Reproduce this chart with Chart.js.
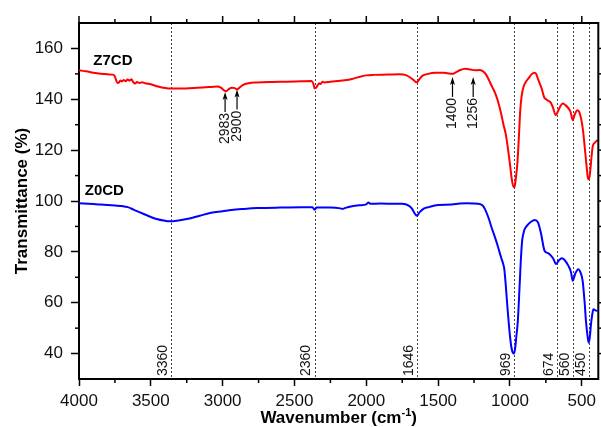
<!DOCTYPE html>
<html>
<head>
<meta charset="utf-8">
<script src="https://cdn.jsdelivr.net/npm/chart.js@4"></script>
<style>
html,body{margin:0;padding:0;background:#fff;}
#c{display:block;}
</style>
</head>
<body>
<canvas id="c" width="601" height="427"></canvas>
<script>
// ---------- data ----------
const xTicks = [4000, 3500, 3000, 2500, 2000, 1500, 1000, 500];
const xMinorTicks = [3750, 3250, 2750, 2250, 1750, 1250, 750];
const yTicks = [40, 60, 80, 100, 120, 140, 160];
const yMinorTicks = [50, 70, 90, 110, 130, 150];
const seriesNames = ['Z7CD', 'Z0CD'];
const peakWn = [3360, 2360, 1646, 969, 674, 560, 450];
const arrowWn = [2983, 2900, 1400, 1256];
const arrowTipT = [142.9, 143.8, 148.8, 148.8];

const z7Wn = [4000,3950,3900,3850,3800,3765,3752,3742,3732,3722,3712,3700,3688,3675,3662,3648,3635,3622,3610,3595,3580,3560,3540,3500,3450,3400,3360,3300,3200,3100,3040,3010,2990,2975,2955,2935,2915,2900,2885,2860,2820,2760,2650,2550,2450,2380,2368,2360,2350,2338,2328,2318,2305,2290,2250,2200,2150,2100,2050,2000,1950,1850,1770,1720,1685,1660,1648,1632,1610,1570,1520,1460,1420,1400,1380,1350,1310,1275,1245,1215,1190,1170,1150,1125,1100,1075,1060,1045,1030,1015,1000,987,975,968,958,948,938,928,918,905,890,870,850,830,818,805,790,778,762,748,730,715,700,682,668,650,632,612,592,578,563,548,530,518,505,492,480,468,456,449,440,432,424,415,405,390];
const z7T  = [151.4,151.0,150.4,150.0,149.8,149.7,149.2,147.6,146.4,146.6,147.4,147.0,147.6,147.1,147.8,147.3,147.9,146.7,146.2,146.8,146.4,146.7,146.3,145.9,145.0,144.4,144.2,144.2,144.4,144.8,145.0,144.5,143.5,143.2,144.1,144.5,144.4,143.9,144.5,145.6,146.3,146.6,146.8,146.9,147.1,147.2,146.0,144.3,144.5,145.6,146.3,146.0,146.9,146.6,146.9,147.2,147.5,148.0,148.8,149.4,149.6,149.7,149.8,149.4,148.2,147.0,146.7,147.8,149.2,150.0,150.4,150.4,150.1,150.0,150.5,151.4,152.0,151.7,151.4,151.5,151.1,150.0,148.0,145.0,142.0,137.5,134.0,130.0,126.5,121.0,114.5,108.5,105.5,105.6,109.5,115.0,125.0,136.0,141.5,145.0,146.8,148.3,149.8,150.4,150.0,148.0,145.8,144.0,140.8,140.0,139.3,138.6,136.6,133.8,135.0,137.2,138.3,137.6,136.4,135.0,131.8,134.2,135.7,135.0,132.5,128.0,121.5,114.5,108.8,108.6,112.5,117.5,121.5,122.6,123.2,124.0];

const z0Wn = [4000,3900,3850,3750,3700,3660,3620,3576,3520,3460,3400,3370,3320,3250,3160,3080,3000,2940,2850,2757,2600,2450,2375,2360,2345,2250,2180,2165,2140,2100,2050,2000,1985,1970,1900,1800,1750,1705,1680,1660,1648,1630,1600,1560,1500,1405,1350,1300,1220,1190,1175,1150,1128,1100,1082,1060,1047,1040,1030,1020,1010,1000,990,980,971,963,955,945,935,925,915,905,897,870,840,828,805,785,759,740,724,700,678,660,639,620,593,575,563,545,524,510,494,480,471,460,452,444,436,428,419,405,390];
const z0T  = [99.1,98.8,98.6,98.2,98.0,97.6,96.6,95.5,94.2,92.9,92.2,92.0,92.2,92.9,94.2,95.4,96.0,96.5,96.9,97.2,97.4,97.5,97.5,96.6,97.4,97.4,97.1,96.9,97.4,97.9,98.3,98.7,99.4,98.9,99.0,98.9,98.9,98.2,96.8,94.8,94.2,95.5,97.0,97.7,98.4,98.6,99.0,99.1,98.9,98.2,96.9,93.5,89.6,85.0,81.7,77.5,75.2,73.5,67.5,60.0,53.0,47.0,42.5,40.3,40.0,42.5,47.0,53.0,64.0,76.0,84.5,87.5,89.0,91.0,92.3,92.5,91.6,87.5,80.4,79.6,79.1,77.5,75.2,76.6,77.5,76.8,74.5,72.0,68.6,71.5,73.2,72.0,68.6,60.0,52.8,47.0,44.3,46.5,51.5,55.0,57.4,57.0,56.8];

// ---------- style ----------
const FONT = '"Liberation Sans", Arial, Helvetica, sans-serif';
const toXY = (w, t) => w.map((v, i) => ({x: v, y: t[i]}));

const deco = {
  id: 'deco',
  beforeDatasetsDraw(chart) {
    const {ctx, chartArea: a, scales: {x}} = chart;
    ctx.save();
    ctx.strokeStyle = '#444';
    ctx.lineWidth = 1;
    ctx.setLineDash([2, 2]);
    peakWn.forEach(w => {
      const px = Math.round(x.getPixelForValue(w)) + 0.5;
      ctx.beginPath(); ctx.moveTo(px, a.top); ctx.lineTo(px, a.bottom); ctx.stroke();
    });
    ctx.restore();
  },
  afterDraw(chart) {
    const {ctx, chartArea: a, scales: {x, y}} = chart;
    ctx.save();
    // frame top & right
    ctx.strokeStyle = '#000'; ctx.lineWidth = 2;
    ctx.beginPath();
    ctx.moveTo(a.left - 1, a.top); ctx.lineTo(a.right, a.top); ctx.lineTo(a.right, a.bottom + 1);
    ctx.stroke();
    // ticks
    ctx.lineWidth = 1.5;
    const vt = (px, y0, y1) => { ctx.beginPath(); ctx.moveTo(px, y0); ctx.lineTo(px, y1); ctx.stroke(); };
    const ht = (py, x0, x1) => { ctx.beginPath(); ctx.moveTo(x0, py); ctx.lineTo(x1, py); ctx.stroke(); };
    xTicks.forEach(w => { const px = x.getPixelForValue(w); vt(px, a.top, a.top - 7); });
    xMinorTicks.forEach(w => { const px = x.getPixelForValue(w); vt(px, a.top, a.top - 4); vt(px, a.bottom, a.bottom + 4); });
    yMinorTicks.forEach(v => { const py = y.getPixelForValue(v); ht(py, a.left, a.left - 4); ht(py, a.right, a.right + 4); });
    yTicks.forEach(v => { const py = y.getPixelForValue(v); ht(py, a.right, a.right + 8); });

    // peak labels (rotated) near bottom
    ctx.fillStyle = '#111';
    ctx.font = '14px ' + FONT;
    ctx.textAlign = 'left'; ctx.textBaseline = 'middle';
    peakWn.forEach(w => {
      const px = x.getPixelForValue(w) - 8;
      ctx.save(); ctx.translate(px, a.bottom - 3); ctx.rotate(-Math.PI / 2);
      ctx.fillText(String(w), 0, 0); ctx.restore();
    });

    // arrows + labels
    arrowWn.forEach((w, i) => {
      const px = x.getPixelForValue(w);
      const tip = y.getPixelForValue(arrowTipT[i]);
      const tail = tip + 20;
      ctx.strokeStyle = '#000'; ctx.lineWidth = 1.2;
      ctx.beginPath(); ctx.moveTo(px, tail); ctx.lineTo(px, tip + 4); ctx.stroke();
      ctx.fillStyle = '#000';
      ctx.beginPath(); ctx.moveTo(px, tip); ctx.lineTo(px - 2.5, tip + 8); ctx.lineTo(px, tip + 6); ctx.lineTo(px + 2.5, tip + 8); ctx.closePath(); ctx.fill();
      ctx.fillStyle = '#111';
      ctx.font = '14px ' + FONT;
      ctx.textAlign = 'right'; ctx.textBaseline = 'middle';
      ctx.save(); ctx.translate(px, tail + 1); ctx.rotate(-Math.PI / 2);
      ctx.fillText(String(w), 0, 0); ctx.restore();
    });

    // series labels
    ctx.fillStyle = '#000';
    ctx.font = 'bold 15px ' + FONT;
    ctx.textAlign = 'left'; ctx.textBaseline = 'middle';
    ctx.fillText(seriesNames[0], x.getPixelForValue(3900), y.getPixelForValue(155.3));
    ctx.fillText(seriesNames[1], x.getPixelForValue(3960), y.getPixelForValue(104.1));

    // x-axis title with superscript
    const main = 'Wavenumber (cm', sup = '-1', end = ')';
    const fMain = 'bold 17px ' + FONT, fSup = 'bold 11px ' + FONT;
    ctx.font = fMain; const w1 = ctx.measureText(main).width, w3 = ctx.measureText(end).width;
    ctx.font = fSup; const w2 = ctx.measureText(sup).width;
    let sx = (a.left + a.right) / 2 - (w1 + w2 + w3) / 2;
    const by = 423;
    ctx.textAlign = 'left'; ctx.textBaseline = 'alphabetic';
    ctx.font = fMain; ctx.fillText(main, sx, by); sx += w1;
    ctx.font = fSup; ctx.fillText(sup, sx, by - 7); sx += w2;
    ctx.font = fMain; ctx.fillText(end, sx, by);
    ctx.restore();
  }
};

new Chart(document.getElementById('c'), {
  type: 'line',
  data: {
    datasets: [
      {label: seriesNames[0], data: toXY(z7Wn, z7T), borderColor: '#ff0000', borderWidth: 2},
      {label: seriesNames[1], data: toXY(z0Wn, z0T), borderColor: '#0000ff', borderWidth: 2}
    ]
  },
  options: {
    responsive: false,
    animation: false,
    devicePixelRatio: 1,
    layout: {padding: {top: 23, right: 1, left: 0, bottom: 0}},
    elements: {point: {radius: 0}, line: {cubicInterpolationMode: 'monotone', fill: false}},
    plugins: {legend: {display: false}, tooltip: {enabled: false}},
    scales: {
      x: {
        type: 'linear', reverse: true, min: 385, max: 4000,
        afterBuildTicks: s => { s.ticks = xTicks.map(v => ({value: v})); },
        afterFit: s => { s.height = 48; },
        grid: {drawOnChartArea: false, tickLength: 7, tickColor: '#000', tickWidth: 1.5},
        border: {color: '#000', width: 2},
        ticks: {font: {family: FONT, size: 17}, color: '#111', padding: 5, maxRotation: 0, autoSkip: false, callback: v => String(v)}
      },
      y: {
        min: 30, max: 170,
        afterBuildTicks: s => { s.ticks = yTicks.map(v => ({value: v})); },
        afterFit: s => { s.width = 79; },
        grid: {drawOnChartArea: false, tickLength: 8, tickColor: '#000', tickWidth: 1.5},
        border: {color: '#000', width: 2},
        ticks: {font: {family: FONT, size: 17}, color: '#111', padding: 8, callback: v => String(v)},
        title: {display: true, text: 'Transmittance (%)', color: '#000', font: {family: FONT, size: 17, weight: 'bold'}, padding: {top: 12, bottom: 0}}
      }
    }
  },
  plugins: [deco]
});
</script>
</body>
</html>
